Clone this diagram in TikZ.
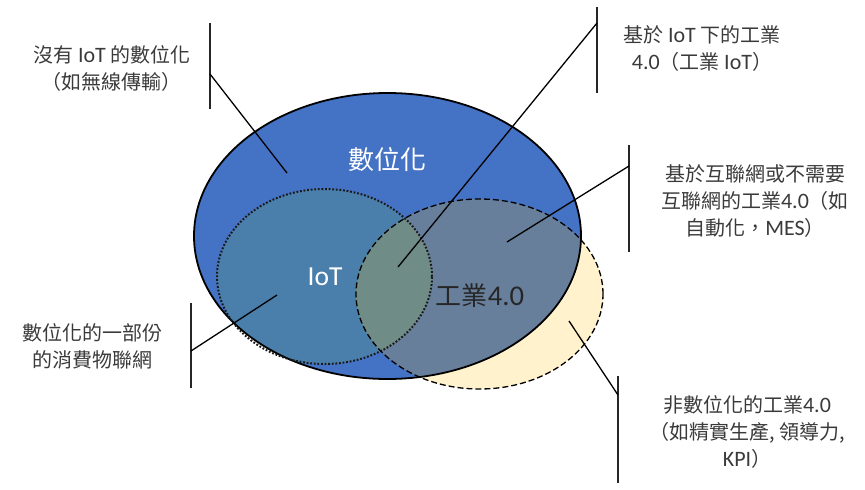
\documentclass[tikz,border=0pt]{standalone}
\usepackage{fontspec}
\setmainfont{Noto Sans CJK TC}
\newfontfamily\lat{Carlito}[Scale=1.1]
\definecolor{bigblue}{HTML}{4472C4}
\definecolor{iotcol}{HTML}{4A7EAB}
\definecolor{indcol}{HTML}{687F9C}
\definecolor{ovcol}{HTML}{6F8C86}
\definecolor{yel}{HTML}{FFF2CC}
\definecolor{labelgray}{HTML}{3A3A3A}
\definecolor{darktext}{HTML}{262626}
\begin{document}
\begin{tikzpicture}[x=1pt,y=-1pt,
  lbl/.style={font=\fontsize{20}{27}\selectfont, text=labelgray, align=center, inner sep=0pt},
  bar/.style={line width=1.4pt, draw=black!85},
  lead/.style={line width=1.3pt, draw=black},
  inlbl/.style={font=\fontsize{26}{30}\selectfont, inner sep=0pt}]
\useasboundingbox (0,0) rectangle (865,490);
\def\bigE{(387.5,236) ellipse [x radius=193.5pt, y radius=143pt]}
\def\iotE{(324.5,276.5) ellipse [x radius=107.5pt, y radius=87.5pt]}
\def\indE{(479.5,294) ellipse [x radius=123.5pt, y radius=95pt]}
% fills
\fill[yel] \indE;
\fill[bigblue] \bigE;
\begin{scope}
  \clip \bigE;
  \fill[iotcol] \iotE;
  \fill[indcol] \indE;
  \clip \iotE;
  \fill[ovcol] \indE;
\end{scope}
% outlines
\draw[line width=1.8pt] \bigE;
\draw[line width=2pt, dash pattern=on 1.8pt off 1.8pt, draw=black!90] \iotE;
\draw[line width=1.3pt, dash pattern=on 6pt off 3pt] \indE;
% inner labels
\node[inlbl, text=white] (dig) at (387,160) {數位化};
\node[inlbl, text=white, font=\lat\fontsize{25}{30}\selectfont] (iot) at (325,277) {IoT};
\node[inlbl, text=darktext] (ind) at (480,296) {工業{\lat 4.0}};
% bars and lead points
\coordinate (b1t) at (210,23);  \coordinate (b1b) at (210,109); \coordinate (m1) at (210,74);  \coordinate (p1) at (287,173);
\coordinate (b2t) at (597,7);   \coordinate (b2b) at (597,93);  \coordinate (m2) at (597,23);  \coordinate (p2) at (398,267);
\coordinate (b3t) at (629,145); \coordinate (b3b) at (629,252); \coordinate (m3) at (629,166); \coordinate (p3) at (507,242);
\coordinate (b4t) at (191,303); \coordinate (b4b) at (191,388); \coordinate (m4) at (191,351); \coordinate (p4) at (277,295);
\coordinate (b5t) at (618,376); \coordinate (b5b) at (618,483); \coordinate (m5) at (618,395); \coordinate (p5) at (569,321);
\foreach \i in {1,...,5}{
  \draw[bar] (b\i t) -- (b\i b);
  \draw[lead] (m\i) -- (p\i);
}
% outer labels
\node[lbl] (t1) at (112,68.5) {沒有 {\lat IoT} 的數位化\\（如無線傳輸）};
\node[lbl] (t2) at (702,49) {基於 {\lat IoT} 下的工業\\{\lat 4.0}（工業 {\lat IoT}）};
\node[lbl] (t3) at (755,201) {基於互聯網或不需要\\互聯網的工業{\lat 4.0}（如\\自動化，{\lat MES}）};
\node[lbl] (t4) at (92.5,346) {數位化的一部份\\的消費物聯網};
\node[lbl] (t5) at (747,432) {非數位化的工業{\lat 4.0}\\（如精實生產, 領導力,\\{\lat KPI}）};
\end{tikzpicture}
\end{document}
